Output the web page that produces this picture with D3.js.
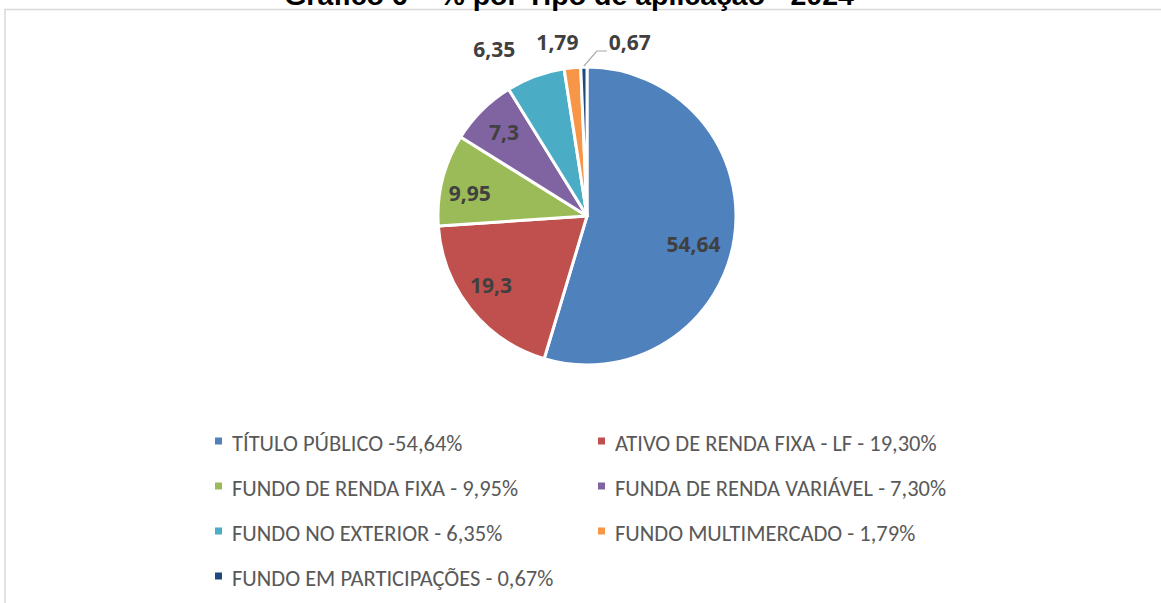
<!DOCTYPE html>
<html>
<head>
    <meta charset="utf-8">
    <script src="https://d3js.org/d3.v7.min.js"></script>
    <style>
        body { margin: 0; background: #fff; }
    </style>
</head>
<body>
    <svg width="1161" height="603"></svg>

    <script>
        // dados do gráfico
        var categorias = [
            'TÍTULO PÚBLICO -54,64%',
            'ATIVO DE RENDA FIXA - LF - 19,30%',
            'FUNDO DE RENDA FIXA - 9,95%',
            'FUNDA DE RENDA VARIÁVEL - 7,30%',
            'FUNDO NO EXTERIOR - 6,35%',
            'FUNDO MULTIMERCADO - 1,79%',
            'FUNDO EM PARTICIPAÇÕES - 0,67%'
        ];
        var valores = [54.64, 19.3, 9.95, 7.3, 6.35, 1.79, 0.67];
        var rotulos = ['54,64', '19,3', '9,95', '7,3', '6,35', '1,79', '0,67'];
        var cores = ['#4F81BD', '#C0504D', '#9BBB59', '#8064A2', '#4BACC6', '#F79646', '#1F497D'];
        var titulo = 'Gráfico 6 – % por Tipo de aplicação - 2024';

        var svg = d3.select("svg");

        // moldura cinza
        svg.append("rect")
            .attr("x", 5).attr("y", 9.5)
            .attr("width", 1300).attr("height", 800)
            .attr("fill", "none")
            .attr("stroke", "#d9d9d9")
            .attr("stroke-width", 1.5);

        // título (cortado no topo, como no original)
        svg.append("text")
            .attr("x", 569).attr("y", 5)
            .attr("text-anchor", "middle")
            .attr("font-family", "'Liberation Sans', Arial, sans-serif")
            .attr("font-weight", "bold")
            .attr("font-size", 28.5)
            .attr("fill", "#000")
            .text(titulo);

        var cx = 587, cy = 216, r = 149;

        var pie = d3.pie().sort(null).value(function(d) { return d; });
        var arcs = pie(valores);

        var arc = d3.arc().innerRadius(0).outerRadius(r);
        var labelArc = d3.arc().innerRadius(r * 0.79).outerRadius(r * 0.79);

        var g = svg.append("g").attr("transform", "translate(" + cx + "," + cy + ")");

        g.selectAll("path.fatia")
            .data(arcs)
            .enter().append("path")
            .attr("class", "fatia")
            .attr("d", arc)
            .attr("fill", function(d, i) { return cores[i]; })
            .attr("stroke", "#fff")
            .attr("stroke-width", 3)
            .attr("stroke-linejoin", "round");

        // rótulos: dentro para fatias grandes, acima para as pequenas
        var ajusteDentro = { 0: [-10, 12], 1: [-4, -4], 2: [-3, 6] };
        var ajusteFora = { 4: [-41, -166], 5: [-15, -173], 6: [46, -173] };

        function posRotulo(d, i) {
            if (ajusteFora[i]) {
                var mid = (d.startAngle + d.endAngle) / 2;
                var xo = r * Math.sin(mid);
                return [xo + ajusteFora[i][0], ajusteFora[i][1]];
            }
            var c = labelArc.centroid(d);
            var a = ajusteDentro[i] || [0, 0];
            return [c[0] + a[0], c[1] + a[1]];
        }

        // linha guia do menor valor
        var d6 = arcs[6];
        var mid6 = (d6.startAngle + d6.endAngle) / 2;
        var p0 = [(r + 1) * Math.sin(mid6), -(r + 1) * Math.cos(mid6)];
        var pl = posRotulo(d6, 6);
        g.append("polyline")
            .attr("points", [p0, [p0[0] + 13, pl[1] + 8], [pl[0] - 23, pl[1] + 8]].map(function(p) { return p.join(","); }).join(" "))
            .attr("fill", "none")
            .attr("stroke", "#a6a6a6")
            .attr("stroke-width", 1.2);

        g.selectAll("text.rotulo")
            .data(arcs)
            .enter().append("text")
            .attr("class", "rotulo")
            .attr("transform", function(d, i) { return "translate(" + posRotulo(d, i) + ")"; })
            .attr("text-anchor", "middle")
            .attr("dy", "0.35em")
            .attr("font-family", "'Open Sans', Calibri, sans-serif")
            .attr("font-weight", "bold")
            .attr("font-size", 21)
            .attr("fill", "#404040")
            .text(function(d, i) { return rotulos[i]; });

        // legenda em duas colunas
        var colX = [215, 598];
        var linha0 = 451, passo = 45;

        var leg = svg.selectAll("g.leg")
            .data(categorias)
            .enter().append("g")
            .attr("class", "leg")
            .attr("transform", function(d, i) {
                return "translate(" + colX[i % 2] + "," + (linha0 + Math.floor(i / 2) * passo) + ")";
            });

        leg.append("rect")
            .attr("x", 0).attr("y", -13.5)
            .attr("width", 7).attr("height", 7)
            .attr("fill", function(d, i) { return cores[i]; });

        leg.append("text")
            .attr("x", 17).attr("y", 0)
            .attr("font-family", "Carlito, 'Liberation Sans Narrow', 'Arial Narrow', sans-serif")
            .attr("font-size", 22.5)
            .attr("fill", "#595959")
            .text(function(d) { return d; });
    </script>
</body>
</html>
